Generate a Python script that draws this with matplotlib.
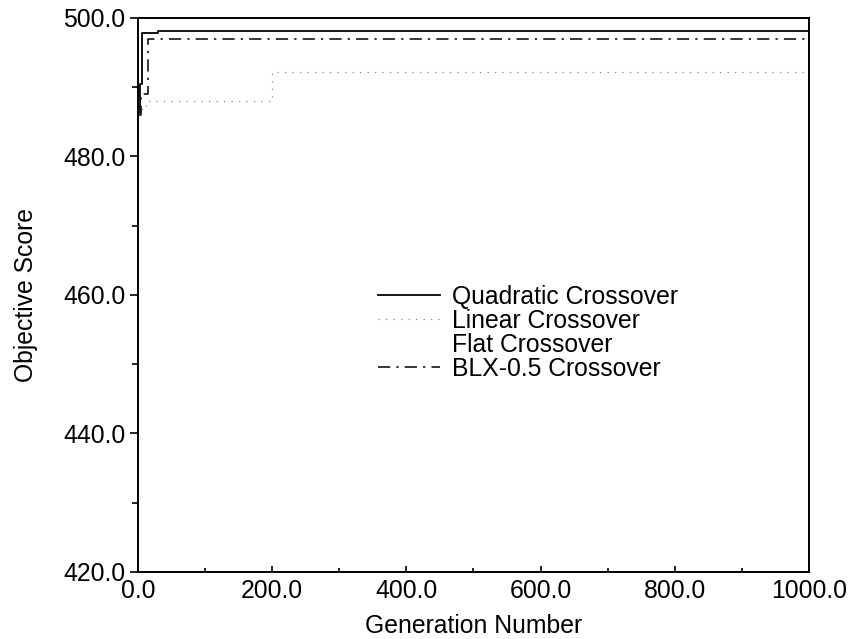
import numpy as np
import matplotlib
matplotlib.use('Agg')
import matplotlib.pyplot as plt
from matplotlib.ticker import MultipleLocator, FormatStrFormatter

plt.rcParams['font.family'] = ['Liberation Sans', 'DejaVu Sans']

# generation numbers where each series changes value (step curves)
quad_gen = [0, 3, 6, 30, 1000]
quad_val = [486.3, 490.5, 497.8, 498.1, 498.1]

lin_gen = [0, 6, 12, 200, 1000]
lin_val = [486.2, 487.0, 488.0, 492.2, 492.2]

flat_gen = [0, 10, 1000]
flat_val = [486.5, 499.7, 499.8]

blx_gen = [0, 4, 15, 1000]
blx_val = [486.0, 489.0, 496.9, 496.9]

labels = ['Quadratic Crossover', 'Linear Crossover', 'Flat Crossover', 'BLX-0.5 Crossover']

fs = 17.8

fig = plt.figure(figsize=(8.52, 6.39), dpi=100)
ax = fig.add_axes([0.162, 0.105, 0.7875, 0.867])

ax.plot(quad_gen, quad_val, drawstyle='steps-post', color='black', lw=1.3, label=labels[0])
ax.plot(lin_gen, lin_val, drawstyle='steps-post', color='#888888', lw=0.9,
        linestyle=(0, (1, 5)), label=labels[1])
ax.plot(flat_gen, flat_val, drawstyle='steps-post', color='white', lw=0.5,
        linestyle=(0, (1, 12)), label=labels[2])
ax.plot(blx_gen, blx_val, drawstyle='steps-post', color='black', lw=1.1,
        linestyle=(0, (8, 4, 1.5, 4)), label=labels[3])

ax.set_xlim(0, 1000)
ax.set_ylim(420, 500)
ax.xaxis.set_major_locator(MultipleLocator(200))
ax.xaxis.set_minor_locator(MultipleLocator(100))
ax.yaxis.set_major_locator(MultipleLocator(20))
ax.yaxis.set_minor_locator(MultipleLocator(10))
ax.xaxis.set_major_formatter(FormatStrFormatter('%.1f'))
ax.yaxis.set_major_formatter(FormatStrFormatter('%.1f'))

ax.tick_params(axis='x', direction='in', length=4, width=1.2, labelsize=fs, pad=5)
ax.tick_params(axis='x', which='minor', direction='in', length=3, width=1.2)
ax.tick_params(axis='y', direction='out', length=6, width=1.2, labelsize=fs, pad=3)
ax.tick_params(axis='y', which='minor', direction='out', length=4, width=1.2)
for s in ax.spines.values():
    s.set_linewidth(1.4)

ax.set_xlabel('Generation Number', fontsize=fs, labelpad=8)
ax.set_ylabel('Objective Score', fontsize=fs, labelpad=18)

leg = ax.legend(loc='upper left', bbox_to_anchor=(378 / 852, 1 - 285 / 639),
                bbox_transform=fig.transFigure, frameon=False, fontsize=fs,
                handlelength=2.5, handletextpad=0.5, labelspacing=0.0,
                borderpad=0, borderaxespad=0)

fig.savefig('out.png', dpi=100)
